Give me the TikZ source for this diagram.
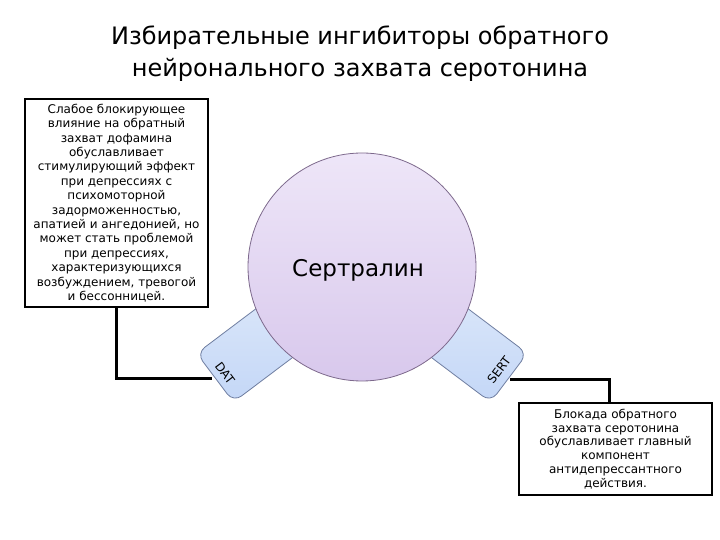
\documentclass[tikz,border=0pt]{standalone}
\usepackage{fontspec}
\setmainfont{DejaVu Sans}
\usetikzlibrary{calc}
\definecolor{tabfill}{RGB}{196,215,247}
\definecolor{tabfilltop}{RGB}{222,233,250}
\definecolor{tabline}{RGB}{110,125,160}
\definecolor{circtop}{RGB}{238,230,248}
\definecolor{circbot}{RGB}{216,200,236}
\definecolor{circline}{RGB}{125,105,140}
\tikzset{
  tabbox/.style={draw=tabline, line width=0.8, rounded corners=10, minimum width=132, minimum height=61, inner sep=0, top color=tabfilltop, bottom color=tabfill},
  tablabel/.style={font=\fontsize{12}{13}\selectfont, inner sep=0},
  textbox/.style={draw=black, line width=2, align=center, inner sep=2, font=\fontsize{12}{14.4}\selectfont},
  conn/.style={draw=black, line width=3},
}
\begin{document}
\begin{tikzpicture}[x=1pt,y=1pt]
\useasboundingbox (0,0) rectangle (720,540);
\coordinate (c) at (362,273);
% tabs
\node[tabbox, rotate=-37] (sert) at ($(c)+(-37:118)$) {};
\node[tabbox, rotate=217] (dat) at ($(c)+(217:118)$) {};
\node[tablabel, rotate=53] (serttxt) at (499,170) {SERT};
\node[tablabel, rotate=-53] (dattxt) at (225,167) {DAT};
% circle
\node[circle, draw=circline, line width=0.8, minimum size=228, inner sep=0, top color=circtop, bottom color=circbot] (sertralin) at (c) {};
\node[font=\fontsize{23}{26}\selectfont] (sname) at (358,270) {Сертралин};
% title
\node[align=center, font=\fontsize{24}{32}\selectfont] (title) at (360,486) {Избирательные ингибиторы обратного\\нейронального захвата серотонина};
% boxes
\node[textbox, minimum width=183, minimum height=208] (leftbox) at (116.5,337) {Слабое блокирующее\\влияние на обратный\\захват дофамина\\обуславливает\\стимулирующий эффект\\при депрессиях с\\психомоторной\\задорможенностью,\\апатией и ангедонией, но\\может стать проблемой\\при депрессиях,\\характеризующихся\\возбуждением, тревогой\\и бессонницей.};
\node[textbox, minimum width=193, minimum height=92, font=\fontsize{12}{13.8}\selectfont] (rightbox) at (615.5,91) {Блокада обратного\\захвата серотонина\\обуславливает главный\\компонент\\антидепрессантного\\действия.};
% connectors
\coordinate (datend) at (212,161);
\coordinate (sertend) at (510,160);
\coordinate (rtop) at (609,137);
\draw[conn] (leftbox.south) |- (datend);
\draw[conn] (sertend) -| (rtop);
\end{tikzpicture}
\end{document}
